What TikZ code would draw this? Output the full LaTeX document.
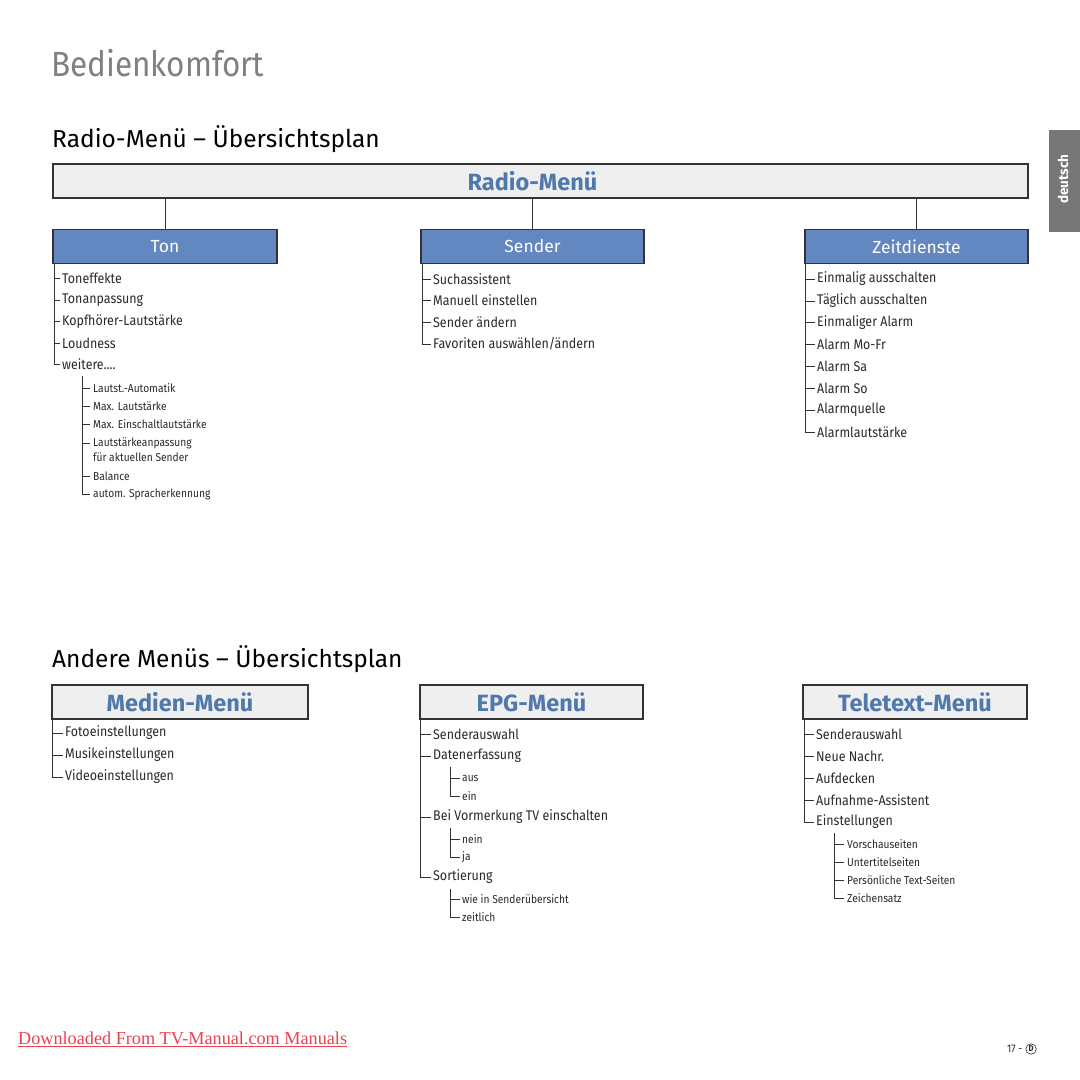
\documentclass[tikz,border=0pt]{standalone}
\usepackage{fontspec}
\setmainfont{Fira Sans}[FakeStretch=0.89]
\newfontfamily\widefont{Fira Sans}
\newfontfamily\titlefont{Fira Sans}[FakeStretch=0.9]
\newfontfamily\footserif{Liberation Serif}
\usetikzlibrary{calc}
\definecolor{hdrblue}{HTML}{4F78AC}
\definecolor{boxblue}{HTML}{6387C0}
\definecolor{boxgray}{HTML}{EFEFEF}
\definecolor{edgec}{HTML}{333333}
\definecolor{titlegray}{HTML}{808080}
\definecolor{tabgray}{HTML}{777777}
\definecolor{linkred}{HTML}{EE3F4C}
\definecolor{txt}{HTML}{2A2A2A}
\newcommand\fsz[2]{\fontsize{#1}{#2}\selectfont}
\tikzset{
  graybox/.style={draw=edgec, line width=1.6pt, fill=boxgray, minimum height=34pt, inner sep=0pt, text=hdrblue, font=\widefont\fsz{23.5}{27}\bfseries},
  bluebox/.style={draw=edgec, line width=1.6pt, fill=boxblue, minimum height=34pt, inner sep=0pt, text=white, font=\widefont\fsz{17.5}{20}},
  item/.style={anchor=west, inner xsep=2pt, inner ysep=0pt, text=txt, font=\fsz{14}{17}},
  subitem/.style={anchor=west, inner xsep=3pt, inner ysep=0pt, text=txt, font=\fsz{11.5}{13}},
  tree/.style={draw=edgec, line width=0.9pt},
  heading/.style={anchor=west, inner sep=0pt, text=black, font=\widefont\fsz{24.5}{28}},
}
\begin{document}
\begin{tikzpicture}[x=1pt, y=-1pt]
\useasboundingbox (0,0) rectangle (1080,1080);
\fill[white] (0,0) rectangle (1080,1080);

% titles
\node[anchor=west, inner sep=0pt, text=titlegray, font=\titlefont\fsz{35}{40}] (title) at (51,63) {Bedienkomfort};
\node[heading] (h1) at (52,139) {Radio-Menü – Übersichtsplan};
\node[heading] (h2) at (52,659) {Andere Menüs – Übersichtsplan};

% language tab
\node[fill=tabgray, minimum width=32pt, minimum height=102pt, inner sep=0pt, anchor=north west] (tab) at (1049,130) {};
\node[rotate=90, text=white, font=\widefont\fsz{13.5}{15}\bfseries, inner sep=0pt] (tabtxt) at (1063,179) {deutsch};

% ===== Radio menu =====
\node[graybox, minimum width=975pt] (radio) at (540.5,181) {};
\node[text=hdrblue, font=\widefont\fsz{23.5}{27}\bfseries, inner sep=0pt] (radiolbl) at (532.5,181) {Radio-Menü};
\node[bluebox, minimum width=224pt] (ton) at (165,246.5) {Ton};
\node[bluebox, minimum width=223pt] (sender) at (532.5,246.5) {Sender};
\node[bluebox, minimum width=223pt] (zeit) at (916.5,246.5) {Zeitdienste};
\foreach \b in {ton,sender,zeit}
  \draw[tree] (radio.south -| \b.north) -- (\b.north);

% Ton items
\coordinate (tonbar) at (54,264);
\node[item] (t1) at (60,278) {Toneffekte};
\node[item] (t2) at (60,300) {Tonanpassung};
\node[item] (t3) at (60,321.5) {Kopfhörer-Lautstärke};
\node[item] (t4) at (60,343) {Loudness};
\node[item] (t5) at (60,364.5) {weitere....};
\draw[tree] (tonbar) |- (t5.west);
\foreach \n in {t1,t2,t3,t4}
  \draw[tree] (\n.west -| tonbar) -- (\n.west);

\coordinate (tonsub) at (82,376);
\node[subitem] (s1) at (90,388) {Lautst.-Automatik};
\node[subitem] (s2) at (90,406.5) {Max. Lautstärke};
\node[subitem] (s3) at (90,424.5) {Max. Einschaltlautstärke};
\node[subitem] (s4) at (90,443) {Lautstärkeanpassung};
\node[subitem] (s4b) at (90,457.5) {für aktuellen Sender};
\node[subitem] (s5) at (90,476) {Balance};
\node[subitem] (s6) at (90,494) {autom. Spracherkennung};
\draw[tree] (tonsub) |- (s6.west);
\foreach \n in {s1,s2,s3,s4,s5}
  \draw[tree] (\n.west -| tonsub) -- (\n.west);

% Sender items
\coordinate (senbar) at (422,264);
\node[item] (e1) at (431,279) {Suchassistent};
\node[item] (e2) at (431,300.5) {Manuell einstellen};
\node[item] (e3) at (431,322) {Sender ändern};
\node[item] (e4) at (431,344) {Favoriten auswählen/ändern};
\draw[tree] (senbar) |- (e4.west);
\foreach \n in {e1,e2,e3}
  \draw[tree] (\n.west -| senbar) -- (\n.west);

% Zeitdienste items
\coordinate (zbar) at (805,264);
\node[item] (z1) at (815,279) {Einmalig ausschalten};
\node[item] (z2) at (815,301) {Täglich ausschalten};
\node[item] (z3) at (815,322.5) {Einmaliger Alarm};
\node[item] (z4) at (815,344.5) {Alarm Mo-Fr};
\node[item] (z5) at (815,366) {Alarm Sa};
\node[item] (z6) at (815,388) {Alarm So};
\node[item] (z7) at (815,410) {Alarmquelle};
\node[item] (z8) at (815,432) {Alarmlautstärke};
\draw[tree] (zbar) |- (z8.west);
\foreach \n in {z1,z2,z3,z4,z5,z6,z7}
  \draw[tree] (\n.west -| zbar) -- (\n.west);

% ===== Other menus =====
\node[graybox, minimum width=256pt] (medien) at (180,702) {Medien-Menü};
\node[graybox, minimum width=223pt] (epg) at (531.5,702) {EPG-Menü};
\node[graybox, minimum width=224pt] (tt) at (915,702) {Teletext-Menü};

% Medien
\coordinate (mbar) at (52.5,719);
\node[item] (m1) at (63,733) {Fotoeinstellungen};
\node[item] (m2) at (63,755) {Musikeinstellungen};
\node[item] (m3) at (63,777) {Videoeinstellungen};
\draw[tree] (mbar) |- (m3.west);
\foreach \n in {m1,m2}
  \draw[tree] (\n.west -| mbar) -- (\n.west);

% EPG
\coordinate (pbar) at (420.5,719);
\node[item] (p1) at (431,734) {Senderauswahl};
\node[item] (p2) at (431,756) {Datenerfassung};
\node[item] (p3) at (431,817) {Bei Vormerkung TV einschalten};
\node[item] (p4) at (431,877) {Sortierung};
\draw[tree] (pbar) |- (p4.west);
\foreach \n in {p1,p2,p3}
  \draw[tree] (\n.west -| pbar) -- (\n.west);

\coordinate (pa) at (450,767);
\node[subitem, inner xsep=2pt] (pa1) at (460,778) {aus};
\node[subitem, inner xsep=2pt] (pa2) at (460,796) {ein};
\draw[tree] (pa) |- (pa2.west);
\draw[tree] (pa1.west -| pa) -- (pa1.west);

\coordinate (pb) at (450,828);
\node[subitem, inner xsep=2pt] (pb1) at (460,839) {nein};
\node[subitem, inner xsep=2pt] (pb2) at (460,857) {ja};
\draw[tree] (pb) |- (pb2.west);
\draw[tree] (pb1.west -| pb) -- (pb1.west);

\coordinate (pc) at (450,889);
\node[subitem, inner xsep=2pt] (pc1) at (460,899.5) {wie in Senderübersicht};
\node[subitem, inner xsep=2pt] (pc2) at (460,917.5) {zeitlich};
\draw[tree] (pc) |- (pc2.west);
\draw[tree] (pc1.west -| pc) -- (pc1.west);

% Teletext
\coordinate (xbar) at (804,719);
\node[item] (x1) at (814,734) {Senderauswahl};
\node[item] (x2) at (814,756) {Neue Nachr.};
\node[item] (x3) at (814,778) {Aufdecken};
\node[item] (x4) at (814,800) {Aufnahme-Assistent};
\node[item] (x5) at (814,822) {Einstellungen};
\draw[tree] (xbar) |- (x5.west);
\foreach \n in {x1,x2,x3,x4}
  \draw[tree] (\n.west -| xbar) -- (\n.west);

\coordinate (xs) at (834,833);
\node[subitem] (y1) at (844,844) {Vorschauseiten};
\node[subitem] (y2) at (844,862) {Untertitelseiten};
\node[subitem] (y3) at (844,880) {Persönliche Text-Seiten};
\node[subitem] (y4) at (844,898) {Zeichensatz};
\draw[tree] (xs) |- (y4.west);
\foreach \n in {y1,y2,y3}
  \draw[tree] (\n.west -| xs) -- (\n.west);

% footer
\node[anchor=west, inner sep=0pt, text=linkred, font=\footserif\fsz{18.2}{20}] (foot) at (18,1038) {Downloaded From TV-Manual.com Manuals};
\draw[linkred, line width=1pt] ([yshift=-2pt]foot.south west) -- ([yshift=-2pt]foot.south east);
\node[anchor=west, inner sep=0pt, text=txt, font=\fsz{11}{13}] (pg) at (1007,1049) {17 -};
\node[draw=txt, line width=0.6pt, circle, inner sep=1pt, text=txt, font=\fsz{8.5}{9}\bfseries, anchor=west] (pgd) at ([xshift=3pt]pg.east) {D};
\end{tikzpicture}
\end{document}
